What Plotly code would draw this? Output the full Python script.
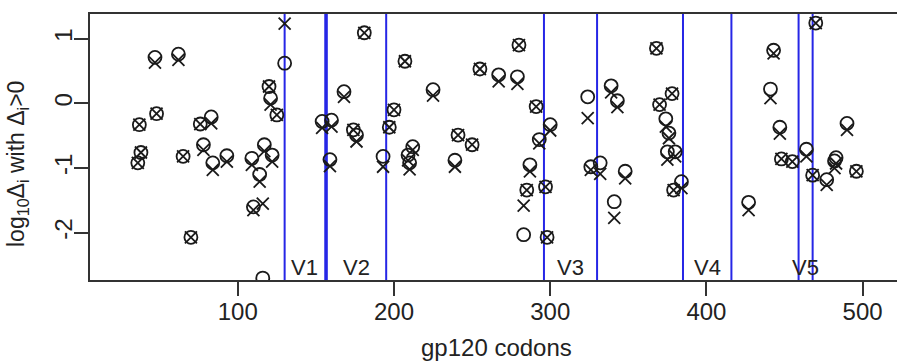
import plotly.graph_objects as go

# codon positions and log10 values (circle series and cross series)
codons = [36, 38, 37, 48, 47, 62, 65, 70, 76, 83, 78, 84, 93, 109, 110, 117, 116, 114, 122,
          120, 121, 125, 130, 154, 160, 159, 181, 168, 174, 176, 207, 200, 197, 193, 212,
          209, 210, 225, 241, 250, 239, 255, 267, 279, 280, 291, 300, 293, 287, 285, 283,
          297, 298, 324, 332, 326, 339, 343, 341, 348, 368, 370, 378, 374, 376, 375, 380,
          379, 384, 427, 443, 441, 447, 448, 455, 464, 470, 468, 477, 483, 482, 490, 496]
circle_vals = [-0.92, -0.76, -0.33, -0.16, 0.71, 0.76, -0.82, -2.07, -0.32, -0.21, -0.64, -0.92,
               -0.81, -0.85, -1.60, -0.64, -2.70, -1.10, -0.80, 0.26, 0.08, -0.18, 0.62, -0.28,
               -0.26, -0.87, 1.09, 0.18, -0.41, -0.49, 0.65, -0.10, -0.37, -0.82, -0.67, -0.80,
               -0.92, 0.21, -0.49, -0.64, -0.88, 0.53, 0.44, 0.41, 0.90, -0.05, -0.33, -0.56,
               -0.95, -1.34, -2.03, -1.29, -2.07, 0.10, -0.92, -0.98, 0.27, 0.04, -1.52, -1.05,
               0.85, -0.02, 0.15, -0.24, -0.46, -0.75, -0.75, -1.34, -1.21, -1.53, 0.82, 0.22,
               -0.37, -0.86, -0.90, -0.71, 1.24, -1.11, -1.18, -0.84, -0.89, -0.31, -1.05]
cross_vals = [-0.92, -0.76, -0.33, -0.16, 0.63, 0.67, -0.82, -2.07, -0.32, -0.31, -0.72, -1.03,
              -0.90, -0.95, -1.65, -0.74, -1.55, -1.21, -0.90, 0.26, -0.02, -0.18, 1.23, -0.38,
              -0.36, -0.97, 1.09, 0.10, -0.41, -0.59, 0.65, -0.10, -0.37, -0.98, -0.72, -0.88,
              -1.02, 0.12, -0.49, -0.64, -0.98, 0.53, 0.34, 0.30, 0.90, -0.05, -0.42, -0.62,
              -1.05, -1.34, -1.58, -1.29, -2.07, -0.23, -1.09, -1.03, 0.17, -0.06, -1.77, -1.16,
              0.85, -0.02, 0.15, -0.36, -0.54, -0.87, -0.82, -1.34, -1.31, -1.65, 0.77, 0.08,
              -0.47, -0.86, -0.90, -0.82, 1.24, -1.11, -1.26, -0.93, -1.00, -0.41, -1.05]

# variable loop boundaries
boundaries = [130, 156, 157, 195, 296, 330, 385, 416, 459, 468]
loop_names = ["V1", "V2", "V3", "V4", "V5"]
loop_starts = [130, 157, 296, 385, 459]
loop_ends = [156, 195, 330, 416, 468]

x_ticks = [100, 200, 300, 400, 500]
x_tick_labels = ["100", "200", "300", "400", "500"]
y_ticks = [-2, -1, 0, 1]
y_tick_labels = ["-2", "-1", "0", "1"]

FONT = "Liberation Sans, Arial, sans-serif"
BLUE = "#2626e6"
INK = "#1a1a1a"

fig = go.Figure()
fig.add_trace(go.Scatter(
    x=codons, y=circle_vals, mode="markers",
    marker=dict(symbol="circle-open", size=13, color=INK, line=dict(width=1.8, color=INK)),
    showlegend=False))
fig.add_trace(go.Scatter(
    x=codons, y=cross_vals, mode="markers",
    marker=dict(symbol="x-thin-open", size=12, color=INK, line=dict(width=1.8, color=INK)),
    showlegend=False))

for b in boundaries:
    fig.add_shape(type="line", xref="x", yref="paper", x0=b, x1=b, y0=0, y1=1,
                  line=dict(color=BLUE, width=2), layer="below")

for name, s, e in zip(loop_names, loop_starts, loop_ends):
    fig.add_annotation(x=(s + e) / 2, y=-2.54, xref="x", yref="y", text=name,
                       showarrow=False, font=dict(family=FONT, size=22, color="#222222"))

fig.add_annotation(xref="paper", yref="paper", x=(17 - 90) / 807, y=(280 - 164) / 266,
                   xanchor="center", yanchor="middle",
                   text="log<sub>10</sub>Δ<sub>i</sub> with Δ<sub>i</sub>&gt;0", textangle=-90,
                   showarrow=False, font=dict(family=FONT, size=23, color="#222222"))
fig.add_annotation(xref="paper", yref="paper", x=(496 - 90) / 807, y=(280 - 347) / 266,
                   xanchor="center", yanchor="middle",
                   text="gp120 codons", showarrow=False,
                   font=dict(family=FONT, size=24, color="#222222"))

axis_common = dict(showgrid=False, zeroline=False, showline=True,
                   linecolor="#333333", linewidth=2, ticks="outside", ticklen=14,
                   tickwidth=2, tickcolor="#333333",
                   tickfont=dict(family=FONT, size=24, color="#222222"))

fig.update_layout(
    width=897, height=363,
    margin=dict(l=90, r=0, t=14, b=83),
    plot_bgcolor="white", paper_bgcolor="white",
    xaxis=dict(range=[5.4, 522], tickvals=x_ticks, ticktext=x_tick_labels,
               ticklabelstandoff=-5, mirror=True, **axis_common),
    yaxis=dict(range=[-2.73, 1.38], tickvals=y_ticks, ticktext=y_tick_labels,
               tickangle=-90, ticklabelstandoff=-8, mirror=False, **axis_common),
)

fig.write_html("out.html", config={"displayModeBar": False},
               post_script="document.body.style.margin='0';document.body.style.overflow='hidden';")
